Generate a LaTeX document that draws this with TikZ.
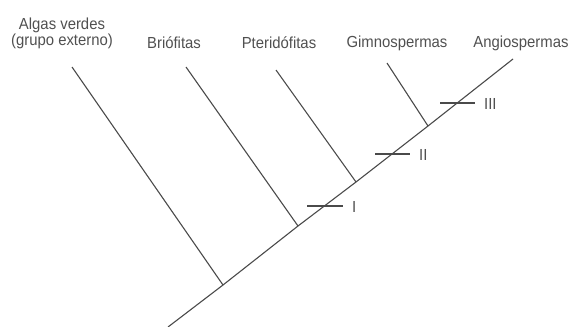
\documentclass[tikz,border=0pt]{standalone}
\usepackage{fontspec}
\setmainfont{Liberation Sans}[FakeStretch=0.93]
\definecolor{linegray}{HTML}{4A4A4A}
\definecolor{textgray}{HTML}{505050}
\begin{document}
\begin{tikzpicture}[x=1pt,y=-1pt,
  taxon/.style={text=textgray,font=\fontsize{16}{17}\selectfont,align=center,inner sep=0pt},
  branch/.style={draw=linegray,line width=1.1pt},
  tick/.style={draw=linegray,line width=1.3pt},
  ticklabel/.style={text=textgray,font=\fontsize{16}{17}\selectfont,inner sep=0pt,anchor=west}]
\useasboundingbox (0,0) rectangle (571,327);
% taxa labels
\node[taxon] (alg) at (62,33) {Algas verdes\\[-1pt](grupo externo)};
\node[taxon] (bri) at (174,43) {Briófitas};
\node[taxon] (pte) at (279,43) {Pteridófitas};
\node[taxon] (gim) at (397,43) {Gimnospermas};
\node[taxon] (ang) at (521,43) {Angiospermas};
% tree coordinates
\coordinate (root) at (168,327);
\coordinate (j1) at (223,285);
\coordinate (j2) at (298,226);
\coordinate (j3) at (356,182);
\coordinate (j4) at (428,126);
\coordinate (tA) at (72,67);
\coordinate (tB) at (186,67);
\coordinate (tP) at (276,70);
\coordinate (tG) at (387,63);
\coordinate (tN) at (513,59);
% main line
\draw[branch] (root) -- (j1) -- (j2) -- (j3) -- (j4) -- (tN);
\draw[branch] (j1) -- (tA);
\draw[branch] (j2) -- (tB);
\draw[branch] (j3) -- (tP);
\draw[branch] (j4) -- (tG);
% character ticks
\coordinate (i1) at (307,206); \coordinate (i2) at (343,206);
\coordinate (ii1) at (375,154); \coordinate (ii2) at (410,154);
\coordinate (iii1) at (440,103); \coordinate (iii2) at (475,103);
\draw[tick] (i1) -- (i2);
\draw[tick] (ii1) -- (ii2);
\draw[tick] (iii1) -- (iii2);
\node[ticklabel] (l1) at (352,207) {I};
\node[ticklabel] (l2) at (419,155) {II};
\node[ticklabel] (l3) at (484,104) {III};
\end{tikzpicture}
\end{document}
